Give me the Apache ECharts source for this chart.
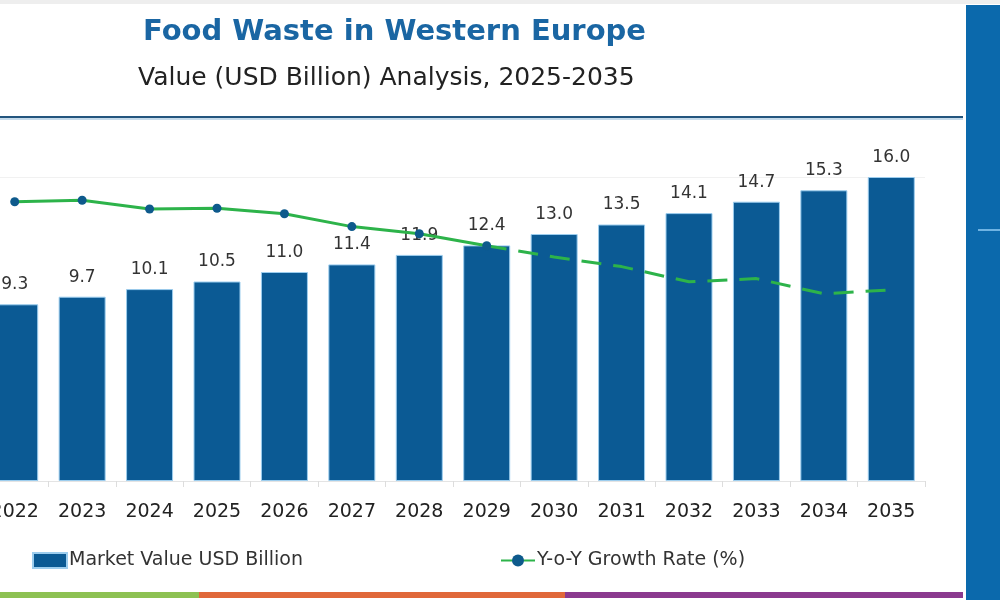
<!DOCTYPE html>
<html>
<head>
<meta charset="utf-8">
<script src="https://cdn.jsdelivr.net/npm/echarts@6/dist/echarts.min.js"></script>
<style>
  html, body { margin: 0; padding: 0; background: #ffffff; }
  #chart { width: 1000px; height: 600px; }
</style>
</head>
<body>
<div id="chart"></div>
<script>
// ── Data ──
const years = ['2022', '2023', '2024', '2025', '2026', '2027', '2028', '2029', '2030', '2031', '2032', '2033', '2034', '2035'];
const marketValue = [9.3, 9.7, 10.1, 10.5, 11.0, 11.4, 11.9, 12.4, 13.0, 13.5, 14.1, 14.7, 15.3, 16.0];
// Y-o-Y growth (%) — solid part with markers up to 2029, dashed forecast after
const growthActual = [4.69, 4.71, 4.60, 4.61, 4.54, 4.38, 4.29, 4.14, null, null, null, null, null, null];
const growthForecast = [null, null, null, null, null, null, null, 4.14, 4.00, 3.88, 3.69, 3.73, 3.54, 3.59];

const FONT = '"DejaVu Sans", "Noto Sans", sans-serif';
const BAR_BLUE = '#0b5a94';
const GREEN = '#2db34a';
const DOT_BLUE = '#0e5a8c';

const chart = echarts.init(document.getElementById('chart'), null, { renderer: 'canvas' });

chart.setOption({
  animation: false,
  backgroundColor: '#ffffff',
  textStyle: { fontFamily: FONT },
  title: [
    {
      text: 'Food Waste in Western Europe',
      left: 138, top: 13,
      textStyle: { fontFamily: FONT, fontSize: 29, fontWeight: 'bold', color: '#1a66a3' }
    },
    {
      text: 'Value (USD Billion) Analysis, 2025-2035',
      left: 133, top: 61,
      textStyle: { fontFamily: FONT, fontSize: 25, fontWeight: 'normal', color: '#222222' }
    }
  ],
  legend: [
    {
      left: 27, top: 546,
      itemWidth: 34, itemHeight: 15,
      icon: 'rect',
      data: ['Market Value USD Billion'],
      textStyle: { fontFamily: FONT, fontSize: 19, color: '#333333', padding: [0, 0, 0, -3] }
    },
    {
      left: 495, top: 546,
      itemWidth: 34, itemHeight: 15,
      data: ['Y-o-Y Growth Rate (%)'],
      textStyle: { fontFamily: FONT, fontSize: 19, color: '#333333', padding: [0, 0, 0, -3] }
    }
  ],
  grid: { left: -19, top: 177, width: 944, height: 304, outerBoundsMode: 'none' },
  xAxis: {
    type: 'category',
    data: years,
    axisLine: { lineStyle: { color: '#e4e4e4' } },
    axisTick: { show: true, length: 6, lineStyle: { color: '#dddddd' } },
    axisLabel: { fontFamily: FONT, fontSize: 19, color: '#222222', margin: 22 }
  },
  yAxis: [
    {
      type: 'value', min: 0, max: 16, interval: 16,
      axisLine: { show: false }, axisTick: { show: false }, axisLabel: { show: false },
      splitLine: { lineStyle: { color: '#f1f1f1' } }
    },
    {
      type: 'value', min: 1.2, max: 5.0, show: false,
      splitLine: { show: false }
    }
  ],
  series: [
    {
      name: 'Market Value USD Billion',
      type: 'bar',
      barWidth: 47,
      data: marketValue,
      itemStyle: { color: BAR_BLUE, borderColor: '#9ccdee', borderWidth: 1 },
      label: {
        show: true, position: 'top', distance: 11,
        fontFamily: FONT, fontSize: 17, color: '#333333',
        formatter: p => p.value.toFixed(1)
      },
      z: 2
    },
    {
      name: 'Y-o-Y Growth Rate (%)',
      type: 'line',
      yAxisIndex: 1,
      data: growthActual,
      symbol: 'circle', symbolSize: 9,
      itemStyle: { color: DOT_BLUE },
      lineStyle: { color: GREEN, width: 3 },
      z: 3
    },
    {
      name: 'Y-o-Y Growth Rate (%)',
      type: 'line',
      yAxisIndex: 1,
      data: growthForecast,
      showSymbol: false, symbol: 'none',
      itemStyle: { color: DOT_BLUE },
      lineStyle: { color: GREEN, width: 3, type: [20, 12] },
      z: 3
    }
  ],
  graphic: [
    // grey strip at the very top
    { type: 'rect', left: 0, top: 0, shape: { width: 1000, height: 4 }, style: { fill: '#eeeeee' }, silent: true },
    // header rule
    { type: 'rect', left: 0, top: 116, shape: { width: 963, height: 2 }, style: { fill: '#23557e' }, silent: true },
    { type: 'rect', left: 0, top: 118, shape: { width: 963, height: 2 }, style: { fill: '#c6dbeb' }, silent: true },
    // right side panel
    { type: 'rect', left: 966, top: 5, shape: { width: 34, height: 595 }, style: { fill: '#0b69ac' }, silent: true },
    { type: 'rect', left: 978, top: 229, shape: { width: 22, height: 2 }, style: { fill: '#6fb3e3' }, silent: true },
    // bottom colour stripes
    { type: 'rect', left: 0, top: 592, shape: { width: 199, height: 6 }, style: { fill: '#8dc153' }, silent: true },
    { type: 'rect', left: 199, top: 592, shape: { width: 366, height: 6 }, style: { fill: '#e0683a' }, silent: true },
    { type: 'rect', left: 565, top: 592, shape: { width: 398, height: 6 }, style: { fill: '#8b3a8f' }, silent: true }
  ]
});
</script>
</body>
</html>
